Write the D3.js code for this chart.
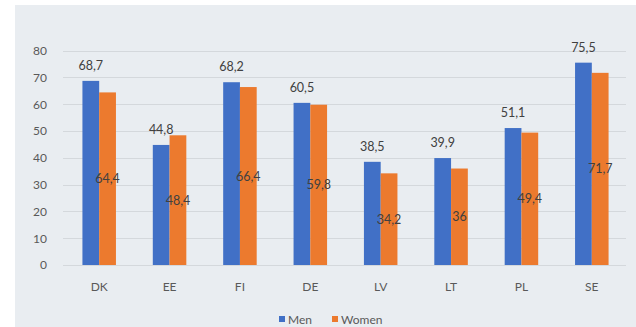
<!DOCTYPE html>
<html>
<head>
<meta charset="utf-8">
<script src="https://cdn.jsdelivr.net/npm/d3@7"></script>
<style>
  html, body { margin: 0; padding: 0; background: #ffffff; }
  svg { display: block; }
  text { font-family: Lato, "Open Sans", "Liberation Sans", sans-serif; }
</style>
</head>
<body>
<div id="chart"></div>
<script>
// Employment rates by country, men and women
const countries = ["DK", "EE", "FI", "DE", "LV", "LT", "PL", "SE"];
const men = [68.7, 44.8, 68.2, 60.5, 38.5, 39.9, 51.1, 75.5];
const women = [64.4, 48.4, 66.4, 59.8, 34.2, 36, 49.4, 71.7];
const seriesNames = ["Men", "Women"];
const yTicks = [0, 10, 20, 30, 40, 50, 60, 70, 80];

const W = 636, H = 327;
const colors = { Men: "#4170c6", Women: "#ec7a2e" };
const textColor = "#595959";

const svg = d3.select("#chart").append("svg")
  .attr("width", W).attr("height", H);

// chart area panel
svg.append("rect")
  .attr("x", 15).attr("y", 5)
  .attr("width", W - 15).attr("height", H - 5)
  .attr("fill", "#e9edf1");

const x0 = d3.scaleBand().domain(countries).range([64, 627]).paddingInner(0).paddingOuter(0);
const x1 = d3.scaleBand().domain(seriesNames)
  .range([0, x0.bandwidth()]).paddingInner(0).paddingOuter(1.1);
const y = d3.scaleLinear().domain([0, 80]).range([265, 50.6]);

const fmt = v => String(v).replace(".", ",");

// horizontal gridlines
svg.append("g").selectAll("line").data(yTicks).join("line")
  .attr("x1", 63).attr("x2", 626)
  .attr("y1", d => Math.round(y(d)) + 0.5).attr("y2", d => Math.round(y(d)) + 0.5)
  .attr("stroke", "#d4d8dc").attr("stroke-width", 1);

// y axis labels
const yAxis = d3.axisLeft(y).tickValues(yTicks).tickSize(0).tickPadding(0);
const gy = svg.append("g").attr("transform", "translate(47,0)").call(yAxis);
gy.select(".domain").remove();
gy.selectAll("text")
  .attr("fill", textColor).attr("font-size", 12)
  .style("font-family", "Lato, 'Open Sans', sans-serif");

// x axis labels
const xAxis = d3.axisBottom(x0).tickSize(0).tickPadding(0);
const gx = svg.append("g").attr("transform", "translate(0,282)").call(xAxis);
gx.select(".domain").remove();
gx.selectAll("text")
  .attr("fill", textColor).attr("font-size", 12)
  .style("font-family", "Lato, 'Open Sans', sans-serif");

const rows = countries.map((c, i) => ({ country: c, Men: men[i], Women: women[i] }));

const groups = svg.append("g").selectAll("g").data(rows).join("g")
  .attr("transform", d => `translate(${x0(d.country)},0)`);

groups.selectAll("rect")
  .data(d => seriesNames.map(k => ({ key: k, value: d[k] })))
  .join("rect")
  .attr("x", d => x1(d.key))
  .attr("width", x1.bandwidth())
  .attr("y", d => y(d.value))
  .attr("height", d => y(0) - y(d.value))
  .attr("fill", d => colors[d.key]);

// Men values above bars
groups.append("text")
  .attr("x", x1("Men") + x1.bandwidth() / 2)
  .attr("y", d => y(d.Men) - 11)
  .attr("text-anchor", "middle")
  .attr("font-size", 12.5)
  .attr("fill", "#404040")
  .text(d => fmt(d.Men));

// Women values centred within bars
groups.append("text")
  .attr("x", x1("Women") + x1.bandwidth() / 2)
  .attr("y", d => (y(d.Women) + y(0)) / 2 + 4.5)
  .attr("text-anchor", "middle")
  .attr("font-size", 12.5)
  .attr("fill", "#404040")
  .text(d => fmt(d.Women));

// legend
const legend = svg.append("g").attr("transform", "translate(279,313)");
const items = [{ key: "Men", x: 0 }, { key: "Women", x: 53 }];
const li = legend.selectAll("g").data(items).join("g")
  .attr("transform", d => `translate(${d.x},0)`);
li.append("rect").attr("width", 6).attr("height", 6).attr("y", 3)
  .attr("fill", d => colors[d.key]);
li.append("text").attr("x", 9).attr("y", 10.5)
  .attr("font-size", 12).attr("fill", textColor)
  .text(d => d.key);
</script>
</body>
</html>
